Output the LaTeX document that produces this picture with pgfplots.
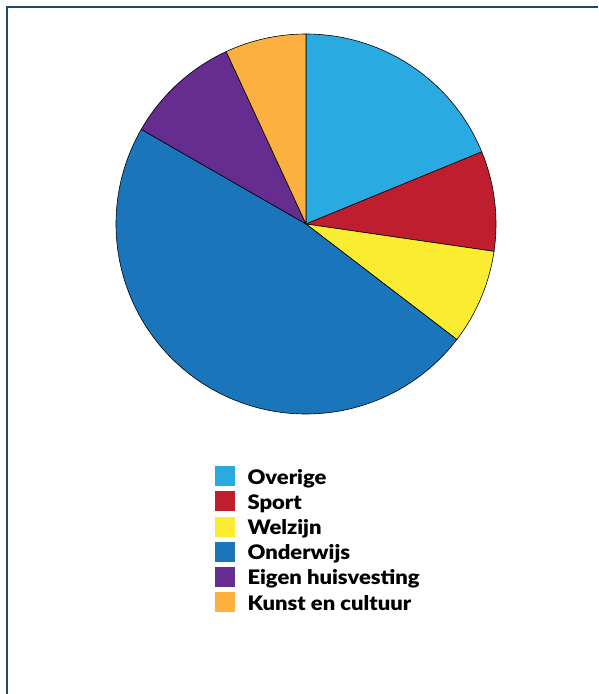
\documentclass[border=0pt]{standalone}
\usepackage{pgfplots}
\pgfplotsset{compat=1.18}
\usepackage{fontspec}
\setmainfont{Lato}[BoldFont={Lato Black}, BoldFeatures={FakeStretch=1.1}]
\definecolor{cOver}{HTML}{29ABE2}
\definecolor{cSport}{HTML}{BE1E2D}
\definecolor{cWelz}{HTML}{F9EC31}
\definecolor{cOnder}{HTML}{1B75BB}
\definecolor{cEigen}{HTML}{662D91}
\definecolor{cKunst}{HTML}{FBB040}
\definecolor{frame}{HTML}{1F4A68}
% shares (percent)
\def\vA{18.8}\def\vB{8.5}\def\vC{8.1}\def\vD{47.9}\def\vE{9.8}\def\vF{6.9}
\pgfmathsetmacro\aA{90}
\pgfmathsetmacro\aB{\aA-3.6*\vA}
\pgfmathsetmacro\aC{\aB-3.6*\vB}
\pgfmathsetmacro\aD{\aC-3.6*\vC}
\pgfmathsetmacro\aE{\aD-3.6*\vD}
\pgfmathsetmacro\aF{\aE-3.6*\vE}
\pgfmathsetmacro\aG{\aF-3.6*\vF}
\def\cx{306}\def\cy{470}\def\R{190}
\begin{document}
\begin{tikzpicture}
\begin{axis}[
  x=1pt, y=1pt, xmin=0, xmax=598, ymin=0, ymax=694,
  hide axis, clip=false, scale only axis, anchor=origin, at={(0,0)},
  legend style={at={(axis cs:215,228)}, anchor=north west, draw=none, fill=none,
    inner sep=0pt, row sep=3.2pt,
    font=\bfseries\fontsize{20}{20}\selectfont,
    nodes={inner ysep=0pt, inner xsep=0pt, text height=14pt, text depth=4pt, anchor=west},
    column sep=0pt},
  legend cell align=left,
  legend image code/.code={\fill[#1,draw=none] (0pt,-7pt) rectangle (20pt,13pt); \path (32pt,0pt);},
]
\addplot[fill=cOver, draw=black, line width=0.6pt, domain=\aB:\aA, samples=60, smooth] ({\cx+\R*cos(x)},{\cy+\R*sin(x)}) -- (axis cs:\cx,\cy) -- cycle;
\addlegendentry{Overige}
\addplot[fill=cSport, draw=black, line width=0.6pt, domain=\aC:\aB, samples=30, smooth] ({\cx+\R*cos(x)},{\cy+\R*sin(x)}) -- (axis cs:\cx,\cy) -- cycle;
\addlegendentry{Sport}
\addplot[fill=cWelz, draw=black, line width=0.6pt, domain=\aD:\aC, samples=30, smooth] ({\cx+\R*cos(x)},{\cy+\R*sin(x)}) -- (axis cs:\cx,\cy) -- cycle;
\addlegendentry{Welzijn}
\addplot[fill=cOnder, draw=black, line width=0.6pt, domain=\aE:\aD, samples=120, smooth] ({\cx+\R*cos(x)},{\cy+\R*sin(x)}) -- (axis cs:\cx,\cy) -- cycle;
\addlegendentry{Onderwijs}
\addplot[fill=cEigen, draw=black, line width=0.6pt, domain=\aF:\aE, samples=30, smooth] ({\cx+\R*cos(x)},{\cy+\R*sin(x)}) -- (axis cs:\cx,\cy) -- cycle;
\addlegendentry{Eigen huisvesting}
\addplot[fill=cKunst, draw=black, line width=0.6pt, domain=\aG:\aF, samples=30, smooth] ({\cx+\R*cos(x)},{\cy+\R*sin(x)}) -- (axis cs:\cx,\cy) -- cycle;
\addlegendentry{Kunst en cultuur}
\draw[frame, line width=2pt] (axis cs:7,0) -- (axis cs:7,687) -- (axis cs:598,687);
\end{axis}
\pgfresetboundingbox
\path[use as bounding box] (0,0) rectangle (598pt,694pt);
\end{tikzpicture}
\end{document}
